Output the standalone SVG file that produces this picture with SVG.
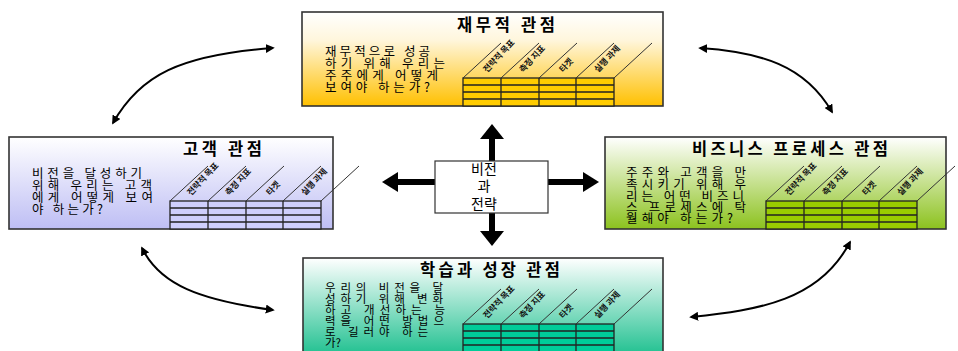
<svg xmlns="http://www.w3.org/2000/svg" xmlns:xlink="http://www.w3.org/1999/xlink" width="958" height="351" viewBox="0 0 958 351">
<style>
.box{stroke:#333;stroke-width:1.6}
.title{font-family:"Noto Sans CJK KR","Noto Sans",sans-serif;font-weight:bold;font-size:16.5px;fill:#000}
.body{font-family:"Noto Sans CJK KR","Noto Sans",sans-serif;font-size:12.5px;fill:#000}
.bsm{font-size:11.5px}
.lbl{font-family:"Noto Sans CJK KR","Noto Sans",sans-serif;font-weight:bold;font-size:8.5px;fill:#111}
.ctr{font-family:"Noto Sans CJK KR","Noto Sans",sans-serif;font-size:14px;fill:#000;text-anchor:middle}
.tl{stroke:#222;stroke-width:1.3;fill:none}
.sl{stroke:#333;stroke-width:1;fill:none}
.curve{stroke:#000;stroke-width:2;fill:none;marker-start:url(#ah);marker-end:url(#ah)}
</style>
<defs>
<linearGradient id="gTop" x1="0" y1="0" x2="0" y2="1"><stop offset="0" stop-color="#FFFFFF"/><stop offset="0.3" stop-color="#FFF6DC"/><stop offset="1" stop-color="#FFC000"/></linearGradient>
<linearGradient id="gLeft" x1="0" y1="0" x2="0" y2="1"><stop offset="0" stop-color="#FFFFFF"/><stop offset="1" stop-color="#BEBEF4"/></linearGradient>
<linearGradient id="gRight" x1="0" y1="0" x2="0" y2="1"><stop offset="0" stop-color="#FFFFFF"/><stop offset="1" stop-color="#8CC21E"/></linearGradient>
<linearGradient id="gBot" x1="0" y1="0" x2="0" y2="1"><stop offset="0" stop-color="#FFFFFF"/><stop offset="1" stop-color="#10BC88"/></linearGradient>
<marker id="ah" viewBox="0 0 10 10" refX="8" refY="5" markerWidth="4.5" markerHeight="4.5" orient="auto-start-reverse"><path d="M0,0 L10,5 L0,10 z" fill="#000"/></marker>
<g id="tbl">
<rect x="0" y="0" width="151" height="28" class="tl" style="fill:inherit"/>
<path class="tl" d="M0,7H151M0,14H151M0,21H151M38,0V28M76,0V28M113,0V28"/>
<path class="sl" d="M0,0l38,-35M38,0l38,-35M76,0l38,-35M113,0l38,-35M151,0l38,-35"/>
</g>
</defs>
<rect width="958" height="351" fill="#FFFFFF"/>

<g id="connectors">
<path class="curve" d="M113,123 C140,75 180,55 273,48"/>
<path class="curve" d="M700,48 C760,52 805,65 832,112"/>
<path class="curve" d="M142,248 C160,285 200,300 273,310"/>
<path class="curve" d="M691,317 C760,310 820,300 850,242"/>
<g id="center-arrows" fill="#000">
<rect x="489" y="137" width="6" height="24"/>
<path d="M480,139 L492,124 L504,139 z"/>
<rect x="489" y="213" width="6" height="20"/>
<path d="M480,231 L492,246 L504,231 z"/>
<rect x="396" y="179" width="39" height="6"/>
<path d="M398,172 L382,182 L398,192 z"/>
<rect x="548" y="179" width="36" height="6"/>
<path d="M583,172 L599,182 L583,192 z"/>
</g>
</g>

<g id="node-finance">
<rect class="box" x="302" y="12" width="361" height="94" fill="url(#gTop)"/>
<text class="title" x="457" y="31" textLength="98" lengthAdjust="spacing">재무적 관점</text>
<text class="body" x="325" y="56" textLength="105" lengthAdjust="spacing">재무적으로 성공</text>
<text class="body" x="325" y="68" textLength="120" lengthAdjust="spacing">하기 위해 우리는</text>
<text class="body" x="325" y="80" textLength="113" lengthAdjust="spacing">주주에게 어떻게</text>
<text class="body" x="325" y="92" textLength="105" lengthAdjust="spacing">보여야 하는가?</text>
<use xlink:href="#tbl" href="#tbl" x="463" y="78" fill="#FFCC00"/>
<text class="lbl" transform="translate(487,73) rotate(-47)">전략적 목표</text>
<text class="lbl" transform="translate(523,73) rotate(-47)">측정 지표</text>
<text class="lbl" transform="translate(563,73) rotate(-47)">타겟</text>
<text class="lbl" transform="translate(598,73) rotate(-47)">실행 과제</text>
</g>

<g id="node-customer">
<rect class="box" x="9" y="137" width="324" height="92" fill="url(#gLeft)"/>
<text class="title" x="183" y="155" textLength="79" lengthAdjust="spacing">고객 관점</text>
<text class="body" x="32" y="178" textLength="110" lengthAdjust="spacing">비전을 달성하기</text>
<text class="body" x="32" y="190" textLength="120" lengthAdjust="spacing">위해 우리는 고객</text>
<text class="body" x="32" y="202" textLength="121" lengthAdjust="spacing">에게 어떻게 보여</text>
<text class="body" x="32" y="214" textLength="71" lengthAdjust="spacing">야 하는가?</text>
<use xlink:href="#tbl" href="#tbl" x="170" y="201" fill="#CFCFFC"/>
<text class="lbl" transform="translate(191,196) rotate(-47)">전략적 목표</text>
<text class="lbl" transform="translate(229,196) rotate(-47)">측정 지표</text>
<text class="lbl" transform="translate(270,196) rotate(-47)">타겟</text>
<text class="lbl" transform="translate(305,196) rotate(-47)">실행 과제</text>
</g>

<g id="node-process">
<rect class="box" x="605" y="137" width="341" height="92" fill="url(#gRight)"/>
<text class="title" x="692" y="155" textLength="196" lengthAdjust="spacing">비즈니스 프로세스 관점</text>
<text class="body" x="626" y="177" textLength="120" lengthAdjust="spacing">주주와 고객을 만</text>
<text class="body" x="626" y="189" textLength="120" lengthAdjust="spacing">족시키기 위해 우</text>
<text class="body" x="626" y="201" textLength="118" lengthAdjust="spacing">리는 어떤 비즈니</text>
<text class="body" x="626" y="212" textLength="120" lengthAdjust="spacing">스 프로세스에 탁</text>
<text class="body" x="626" y="223" textLength="107" lengthAdjust="spacing">월해야 하는가?</text>
<use xlink:href="#tbl" href="#tbl" x="766" y="201" fill="#99CC00"/>
<text class="lbl" transform="translate(789,196) rotate(-47)">전략적 목표</text>
<text class="lbl" transform="translate(826,196) rotate(-47)">측정 지표</text>
<text class="lbl" transform="translate(866,196) rotate(-47)">타겟</text>
<text class="lbl" transform="translate(901,196) rotate(-47)">실행 과제</text>
</g>

<g id="node-learning">
<rect class="box" x="303" y="258" width="360" height="104" fill="url(#gBot)"/>
<text class="title" x="420" y="276" textLength="140" lengthAdjust="spacing">학습과 성장 관점</text>
<text class="body bsm" x="325" y="292" textLength="118" lengthAdjust="spacing">우리의 비전을 달</text>
<text class="body bsm" x="325" y="303" textLength="118" lengthAdjust="spacing">성하기 위해 변화</text>
<text class="body bsm" x="325" y="314" textLength="120" lengthAdjust="spacing">하고 개선하는 능</text>
<text class="body bsm" x="325" y="325" textLength="119" lengthAdjust="spacing">력을 어떤 방법으</text>
<text class="body bsm" x="325" y="336" textLength="103" lengthAdjust="spacing">로 길러야 하는</text>
<text class="body bsm" x="325" y="347">가?</text>
<use xlink:href="#tbl" href="#tbl" x="463" y="324" fill="#00CC99"/>
<text class="lbl" transform="translate(487,319) rotate(-47)">전략적 목표</text>
<text class="lbl" transform="translate(523,319) rotate(-47)">측정 지표</text>
<text class="lbl" transform="translate(563,319) rotate(-47)">타겟</text>
<text class="lbl" transform="translate(598,319) rotate(-47)">실행 과제</text>
</g>

<g id="node-vision">
<rect x="435" y="161" width="113" height="52" fill="#FFFFFF" stroke="#333" stroke-width="1.2"/>
<text class="ctr" x="484" y="174">비전</text>
<text class="ctr" x="484" y="191">과</text>
<text class="ctr" x="484" y="209">전략</text>
</g>
</svg>
